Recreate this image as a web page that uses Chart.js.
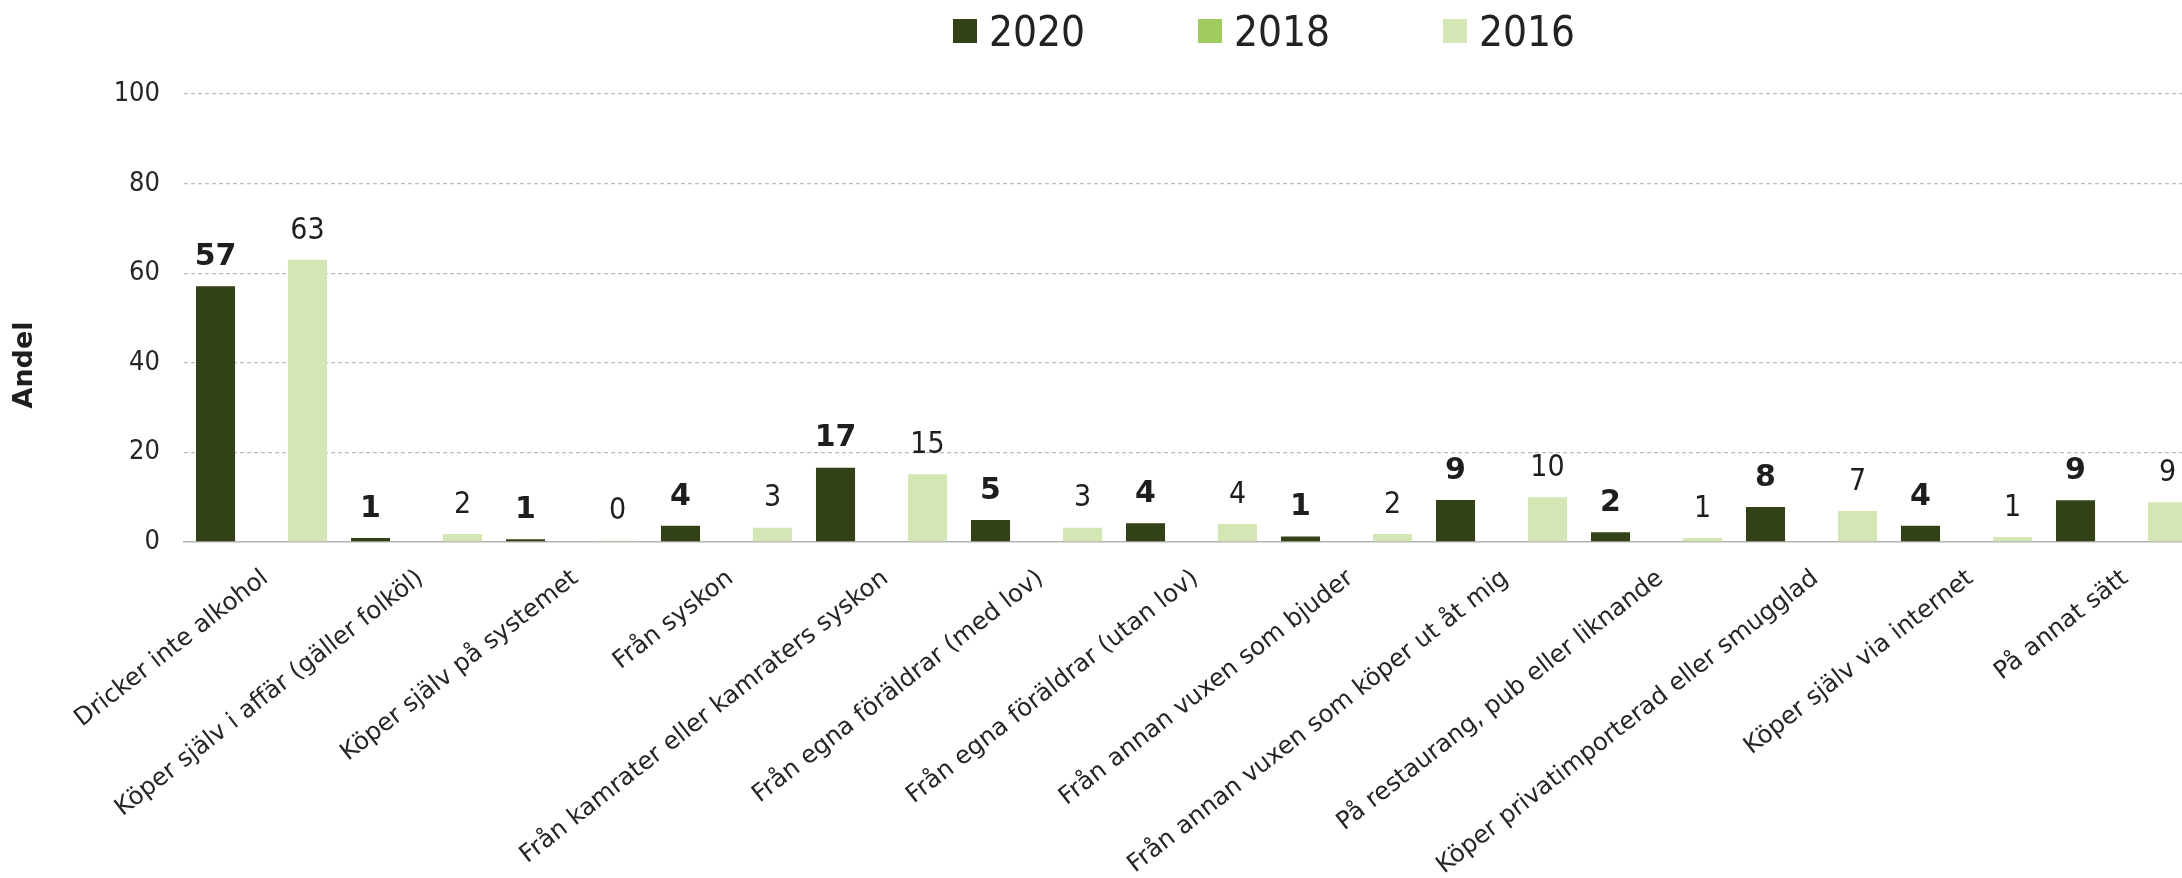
<!DOCTYPE html>
<html>
<head>
<meta charset="utf-8">
<script src="https://cdn.jsdelivr.net/npm/chart.js@4/dist/chart.umd.min.js"></script>
<style>
  html, body { margin: 0; padding: 0; background: #fff; overflow: hidden; }
  #wrap { position: relative; width: 2199px; height: 878px; }
  #legend { position: absolute; top: 4px; left: 953px; display: flex; }
  .item { width: 245px; display: flex; align-items: center; height: 54px;
          font-family: "DejaVu Sans Condensed", "Liberation Sans Narrow", "DejaVu Sans"; font-size: 42px; color: #222; }
  .box { width: 24px; height: 24px; margin-right: 12px; }
</style>
</head>
<body>
<div id="wrap">
  <div id="legend"></div>
  <canvas id="myChart" width="2199" height="878"></canvas>
</div>
<script>
var kategorier = [
  "Dricker inte alkohol",
  "Köper själv i affär (gäller folköl)",
  "Köper själv på systemet",
  "Från syskon",
  "Från kamrater eller kamraters syskon",
  "Från egna föräldrar (med lov)",
  "Från egna föräldrar (utan lov)",
  "Från annan vuxen som bjuder",
  "Från annan vuxen som köper ut åt mig",
  "På restaurang, pub eller liknande",
  "Köper privatimporterad eller smugglad",
  "Köper själv via internet",
  "På annat sätt"
];
var serieNamn = ["2020", "2018", "2016"];
var serieFarger = ["#334117", "#9fcb5f", "#d3e6b3"];
var varden2020 = [57.1, 0.9, 0.6, 3.6, 16.6, 4.9, 4.2, 1.2, 9.4, 2.2, 7.8, 3.6, 9.3];
var varden2018 = [null, null, null, null, null, null, null, null, null, null, null, null, null];
var varden2016 = [63.0, 1.8, 0.3, 3.2, 15.1, 3.2, 4.0, 1.8, 10.0, 0.9, 6.9, 1.1, 8.9];
var yTicks = [0, 20, 40, 60, 80, 100];

var smalFont = '"DejaVu Sans Condensed", "Liberation Sans Narrow", "DejaVu Sans"';

// legend i html
var legend = document.getElementById("legend");
for (var i = 0; i < serieNamn.length; i++) {
  var item = document.createElement("div");
  item.className = "item";
  var box = document.createElement("div");
  box.className = "box";
  box.style.background = serieFarger[i];
  item.appendChild(box);
  item.appendChild(document.createTextNode(serieNamn[i]));
  legend.appendChild(item);
}

// etiketter ovanfor staplarna
var etiketter = {
  id: "etiketter",
  afterDatasetsDraw: function (chart) {
    var ctx = chart.ctx;
    ctx.save();
    ctx.textAlign = "center";
    ctx.textBaseline = "bottom";
    ctx.fillStyle = "#1e1e1e";
    chart.data.datasets.forEach(function (ds, d) {
      if (d == 1) return;
      ctx.font = d == 0 ? "bold 30px 'DejaVu Sans'" : "30px " + smalFont;
      var meta = chart.getDatasetMeta(d);
      meta.data.forEach(function (bar, j) {
        var v = ds.data[j];
        if (v === null) return;
        ctx.fillText(String(Math.round(v)), bar.x, bar.y - 14);
      });
    });
    ctx.restore();
  }
};

var data = {
  labels: kategorier,
  datasets: [
    { label: serieNamn[0], data: varden2020, backgroundColor: serieFarger[0] },
    { label: serieNamn[1], data: varden2018, backgroundColor: serieFarger[1] },
    { label: serieNamn[2], data: varden2016, backgroundColor: serieFarger[2] }
  ]
};

var config = {
  type: "bar",
  data: data,
  plugins: [etiketter],
  options: {
    responsive: false,
    animation: false,
    categoryPercentage: 0.89,
    barPercentage: 0.85,
    layout: { padding: { top: 94, left: 0, right: 0, bottom: 0 } },
    plugins: {
      legend: { display: false },
      tooltip: { enabled: false }
    },
    scales: {
      x: {
        grid: { display: false },
        border: { display: true, color: "#b3b3b3", width: 1.5 },
        ticks: {
          autoSkip: false,
          minRotation: 38,
          maxRotation: 38,
          padding: 14,
          labelOffset: 4,
          color: "#262626",
          font: { family: "'DejaVu Sans'", size: 24.5 }
        },
        afterFit: function (scale) { scale.height = 336; }
      },
      y: {
        min: 0,
        max: 100,
        afterBuildTicks: function (scale) {
          scale.ticks = yTicks.map(function (v) { return { value: v }; });
        },
        grid: {
          drawTicks: false,
          color: function (c) { return c.tick && c.tick.value === 0 ? "rgba(0,0,0,0)" : "#bdbdbd"; },
          lineWidth: 1.3
        },
        border: { display: false, dash: [4, 3] },
        ticks: {
          padding: 24,
          color: "#262626",
          font: { family: smalFont, size: 27 }
        },
        title: {
          display: true,
          text: "Andel          ",
          color: "#1e1e1e",
          padding: { top: 9, bottom: 0 },
          font: { family: "'DejaVu Sans'", size: 27, weight: "bold" }
        },
        afterFit: function (scale) { scale.width = 184; }
      }
    }
  }
};

new Chart(document.getElementById("myChart"), config);
</script>
</body>
</html>
